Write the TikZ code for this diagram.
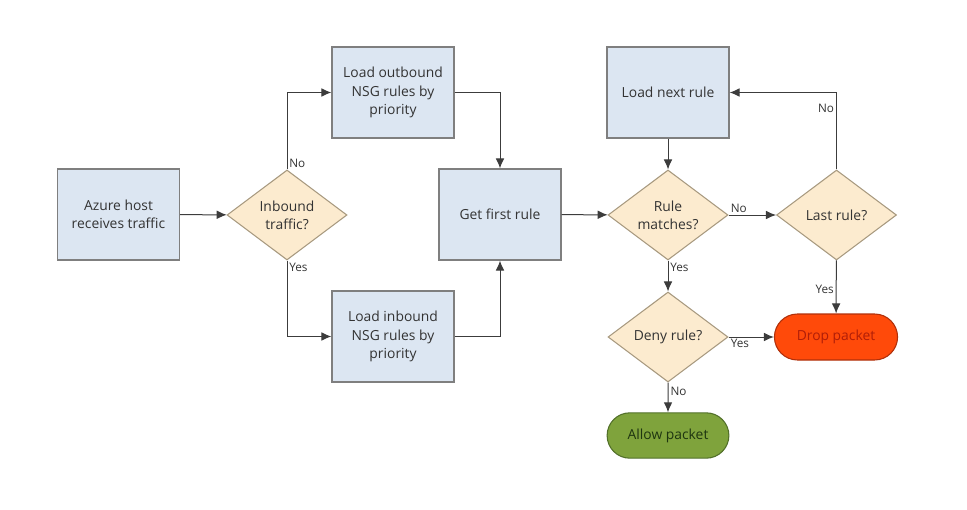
\documentclass[tikz,border=0pt]{standalone}
\usepackage{fontspec}
\setmainfont{Open Sans}
\usepackage{tikz}
\usetikzlibrary{shapes.geometric,shapes.misc,arrows.meta}
\definecolor{ink}{HTML}{333333}
\definecolor{wire}{HTML}{3C3C3C}
\definecolor{boxfill}{HTML}{DCE6F2}
\definecolor{boxline}{HTML}{7F7F7F}
\definecolor{askfill}{HTML}{FCEBCF}
\definecolor{askline}{HTML}{A89A80}
\definecolor{dropfill}{HTML}{FF4A0A}
\definecolor{dropline}{HTML}{B0300A}
\definecolor{droptext}{HTML}{B01E08}
\definecolor{okfill}{HTML}{7FA33C}
\definecolor{okline}{HTML}{52702A}
\definecolor{oktext}{HTML}{1E3510}
\tikzset{
  box/.style={draw=boxline, fill=boxfill, line width=0.9pt, minimum width=91.5pt, minimum height=68.25pt,
    align=center, text=ink, font=\fontsize{10.4}{13.75}\selectfont, inner sep=0pt},
  ask/.style={diamond, draw=askline, fill=askfill, line width=0.8pt, minimum width=90pt, minimum height=67.5pt,
    aspect=1.33, inner sep=0pt, align=center, text=ink, font=\fontsize{10.4}{13.75}\selectfont},
  drop/.style={rounded rectangle, draw=dropline, fill=dropfill, line width=0.8pt, minimum width=99pt,
    minimum height=34.5pt, text=droptext, font=\fontsize{10.4}{12}\selectfont},
  ok/.style={rounded rectangle, draw=okline, fill=okfill, line width=0.8pt, minimum width=98pt,
    minimum height=34pt, text=oktext, font=\fontsize{10.4}{12}\selectfont},
  arr/.style={draw=wire, line width=0.75pt, -{Latex[length=7.5pt,width=6.5pt]}},
  lab/.style={text=ink, font=\fontsize{8.8}{10}\selectfont, inner sep=1.5pt},
}
\begin{document}
\begin{tikzpicture}[x=0.75pt,y=-0.75pt]
  \useasboundingbox (0,0) rectangle (967,510);

  \node[box] (host) at (118.5,214.5) {Azure host\\receives traffic};
  \node[ask] (inq) at (287,215) {Inbound\\traffic?};
  \node[box] (outb) at (393,92.5) {Load outbound\\NSG rules by\\priority};
  \node[box] (inb) at (393,336.5) {Load inbound\\NSG rules by\\priority};
  \node[box] (first) at (500,214.5) {Get first rule};

  \node[box] (next) at (668,92.5) {Load next rule};
  \node[ask] (match) at (668,215) {Rule\\matches?};
  \node[ask] (last) at (836.5,215) {Last rule?};
  \node[ask] (deny) at (668,337) {Deny rule?};
  \node[drop] (dropit) at (836,337) {Drop packet};
  \node[ok] (allow) at (668,435.5) {Allow packet};

  \draw[arr] (host) -- (inq);
  \draw[arr] (inq.north) |- (outb.west);
  \draw[arr] (inq.south) |- (inb.west);
  \draw[arr] (outb.east) -| (first.north);
  \draw[arr] (inb.east) -| (first.south);
  \draw[arr] (first) -- (match);
  \draw[arr] (next) -- (match);
  \draw[arr] (match) -- (last);
  \draw[arr] (match) -- (deny);
  \draw[arr] (last.north) |- node[lab, pos=0.4, left] {No} (next.east);
  \draw[arr] (last) -- node[lab, pos=0.55, left] {Yes} (dropit);
  \draw[arr] (deny) -- (dropit);
  \draw[arr] (deny) -- node[lab, pos=0.3, right] {No} (allow);

  \node[lab, above right] at (inq.north) {No};
  \node[lab, below right] at (inq.south) {Yes};
  \node[lab, above right] at (match.east) {No};
  \node[lab, below right] at (match.south) {Yes};
  \node[lab, below right] at (deny.east) {Yes};
\end{tikzpicture}
\end{document}
